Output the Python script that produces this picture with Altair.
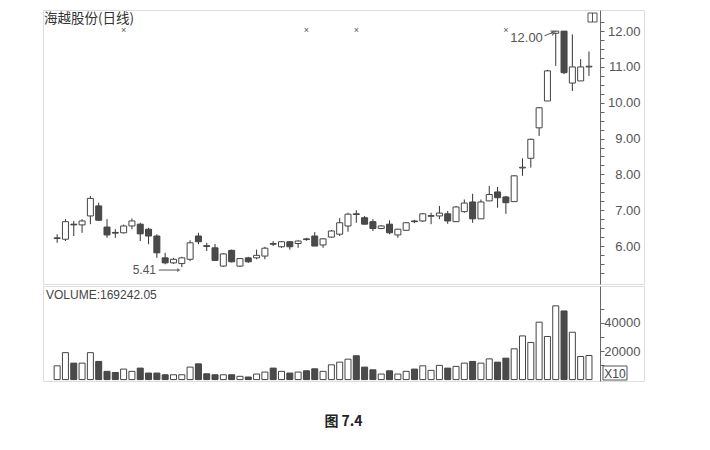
import altair as alt
import pandas as pd

# ---------------- data ----------------
IDX = list(range(1, 66))
OPEN = [6.21, 6.19, 6.61, 6.59, 6.84, 7.12, 6.53, 6.38, 6.37, 6.56,
        6.61, 6.47, 6.28, 5.67, 5.53, 5.51, 5.63, 6.28, 6.01, 5.95,
        5.44, 5.88, 5.44, 5.67, 5.67, 5.72, 6.07, 5.98, 6.12, 6.07,
        6.20, 6.28, 6.03, 6.25, 6.33, 6.56, 6.90, 6.79, 6.68, 6.49,
        6.61, 6.31, 6.44, 6.70, 6.70, 6.83, 6.84, 6.90, 6.68, 6.96,
        7.23, 6.76, 7.26, 7.51, 7.37, 7.24, 8.18, 8.45, 9.30, 10.05,
        11.94, 12.00, 10.55, 10.61, 11.00]
HIGH = [6.33, 6.75, 6.70, 6.75, 7.40, 7.21, 6.75, 6.47, 6.60, 6.77,
        6.65, 6.51, 6.33, 5.81, 5.67, 5.70, 6.16, 6.37, 6.09, 6.06,
        5.80, 5.90, 5.66, 5.70, 5.90, 5.98, 6.14, 6.14, 6.14, 6.16,
        6.23, 6.39, 6.22, 6.45, 6.78, 6.93, 7.00, 6.84, 6.75, 6.58,
        6.72, 6.48, 6.67, 6.73, 6.92, 6.93, 7.12, 6.98, 7.12, 7.30,
        7.46, 7.30, 7.68, 7.65, 7.40, 7.98, 8.45, 9.00, 9.88, 10.92,
        12.00, 12.00, 11.91, 11.22, 11.43]
LOW = [6.09, 6.14, 6.28, 6.37, 6.61, 6.70, 6.23, 6.23, 6.35, 6.47,
       6.14, 6.05, 5.67, 5.49, 5.50, 5.41, 5.58, 6.05, 5.86, 5.58,
       5.42, 5.54, 5.42, 5.53, 5.63, 5.63, 6.00, 5.95, 5.90, 5.95,
       6.15, 6.00, 5.95, 6.23, 6.28, 6.40, 6.65, 6.60, 6.42, 6.47,
       6.33, 6.23, 6.42, 6.64, 6.67, 6.61, 6.75, 6.62, 6.68, 6.93,
       6.65, 6.76, 7.26, 7.07, 6.90, 7.24, 7.96, 8.19, 9.07, 10.05,
       11.03, 10.80, 10.33, 10.61, 10.75]
CLOSE = [6.23, 6.68, 6.59, 6.70, 7.33, 6.72, 6.31, 6.36, 6.56, 6.70,
         6.34, 6.28, 5.81, 5.53, 5.63, 5.67, 6.09, 6.12, 5.99, 5.60,
         5.78, 5.56, 5.65, 5.56, 5.74, 5.94, 6.05, 6.12, 5.98, 6.14,
         6.18, 6.00, 6.20, 6.42, 6.65, 6.89, 6.88, 6.61, 6.49, 6.56,
         6.37, 6.47, 6.65, 6.68, 6.90, 6.85, 6.92, 6.70, 7.09, 7.20,
         6.76, 7.23, 7.44, 7.35, 7.21, 7.96, 8.20, 8.98, 9.86, 10.89,
         12.00, 10.84, 11.00, 11.00, 11.02]
VOLUME = [9700, 19000, 11600, 11600, 19000, 12800, 5800, 5000, 7400, 5800,
          8100, 4600, 4600, 3400, 3400, 3400, 8800, 11100, 4100, 3400,
          3400, 3400, 2300, 1800, 3900, 5300, 8100, 5800, 4600, 5300,
          6200, 7600, 5800, 10400, 12300, 14400, 16800, 8800, 6900, 3900,
          6200, 3900, 5800, 7400, 9700, 6500, 10000, 8100, 9300, 11600,
          12800, 11600, 14600, 12300, 15100, 21700, 30800, 26200, 40500, 30400,
          52000, 48400, 33400, 16300, 17000]
MARK_IDX = [9, 31, 37, 55]          # the small "x" markers along the top
TITLE = "海越股份(日线)"
VOLUME_LABEL = "VOLUME:169242.05"
CAPTION = "图 7.4"
PRICE_TICKS = [v / 4 for v in range(21, 50)]
VOL_TICKS = [10000, 20000, 30000, 40000, 50000]

# ---------------- frames ----------------
df = pd.DataFrame({"i": IDX, "o": OPEN, "h": HIGH, "l": LOW, "c": CLOSE, "v": VOLUME})
df["up"] = df["c"] >= df["o"]
df["z"] = 0

hi_row = df.loc[df["h"].idxmax()]
lo_row = df.loc[df["l"].idxmin()]
ann_hi = pd.DataFrame({"x": [hi_row.i - 1.55], "y": [hi_row.h - 0.19], "t": [f"{hi_row.h:.2f}"],
                       "ax": [hi_row.i - 1.35], "ax2": [hi_row.i - 0.25],
                       "ay": [hi_row.h - 0.13], "ay2": [hi_row.h - 0.03]})
ann_lo = pd.DataFrame({"x": [lo_row.i - 3.1], "y": [lo_row.l - 0.08], "t": [f"{lo_row.l:.2f}"],
                       "ax": [lo_row.i - 2.75], "ax2": [lo_row.i - 0.35]})
marks = pd.DataFrame({"i": MARK_IDX, "y": [12.02] * len(MARK_IDX)})
one = pd.DataFrame({"t": [TITLE]})

FONT = "Liberation Sans"
GRAY = "#555555"
DARK = "#4a4a4a"
W = 601
H1 = 274
H2 = 95

xs = alt.Scale(domain=[-0.10, 71.02], nice=False, zero=False)
ps = alt.Scale(domain=[4.94, 12.59], nice=False, zero=False)
vs = alt.Scale(domain=[-1000, 66000], nice=False, zero=False)

X = alt.X("i:Q", scale=xs, axis=None)

price_axis = alt.Axis(orient="right", offset=-44, values=PRICE_TICKS, tickSize=4,
                      labelExpr="datum.value >= 6 && datum.value <= 12 && datum.value % 1 == 0 ? format(datum.value, '.2f') : ''",
                      labelAlign="right", labelPadding=36, labelFont=FONT, labelFontSize=13,
                      labelColor=GRAY, labelOverlap=False, tickColor="#666", domainColor="#666",
                      grid=False, title=None)
vol_axis = alt.Axis(orient="right", offset=-44, values=VOL_TICKS, tickSize=4,
                    labelExpr="datum.value == 20000 || datum.value == 40000 ? format(datum.value, 'd') : ''",
                    labelAlign="right", labelPadding=36, labelFont=FONT, labelFontSize=13,
                    labelColor=GRAY, labelOverlap=False, tickColor="#666", domainColor="#666",
                    grid=False, title=None)


def PY(field):
    return alt.Y(field, scale=ps, axis=price_axis)


def XQ(field):
    return alt.X(field, scale=xs, axis=None)


fill_cond = alt.condition("datum.up", alt.value("white"), alt.value(DARK))

base = alt.Chart(df)
wicks = base.mark_rule(color="#333", strokeWidth=1).encode(
    x=X, y=PY("l:Q"), y2="h:Q")
bodies = base.mark_bar(size=6, stroke="#444", strokeWidth=1).encode(
    x=X, y=PY("o:Q"), y2="c:Q", fill=fill_cond)

xmarks = alt.Chart(marks).mark_text(text="×", fontSize=9, color=GRAY, font=FONT).encode(
    x=XQ("i:Q"), y=PY("y:Q"))

hi_text = alt.Chart(ann_hi).mark_text(align="right", baseline="middle", fontSize=13,
                                      font=FONT, color=GRAY).encode(
    x=XQ("x:Q"), y=PY("y:Q"), text="t:N")
hi_arrow = alt.Chart(ann_hi).mark_rule(color=GRAY, strokeWidth=1).encode(
    x=XQ("ax:Q"), x2="ax2:Q", y=PY("ay:Q"), y2="ay2:Q")
hi_head = alt.Chart(ann_hi).mark_point(shape="triangle-right", filled=False, size=22,
                                       angle=338, color=GRAY, strokeWidth=1).encode(
    x=XQ("ax2:Q"), y=PY("ay2:Q"))

lo_text = alt.Chart(ann_lo).mark_text(align="right", baseline="middle", fontSize=12,
                                      font=FONT, color=GRAY).encode(
    x=XQ("x:Q"), y=PY("y:Q"), text="t:N")
lo_arrow = alt.Chart(ann_lo).mark_rule(color=GRAY, strokeWidth=1).encode(
    x=XQ("ax:Q"), x2="ax2:Q", y=PY("y:Q"))
lo_head = alt.Chart(ann_lo).mark_point(shape="triangle-right", filled=True, size=18,
                                       color=GRAY).encode(
    x=XQ("ax2:Q"), y=PY("y:Q"))

title_txt = alt.Chart(one).mark_text(align="left", baseline="middle", fontSize=13.5,
                                     font="Noto Sans CJK SC", color="#333").encode(
    x=alt.value(1), y=alt.value(8.5), text="t:N")
icon = alt.Chart(one).mark_rect(fill="white", stroke="#555", strokeWidth=1).encode(
    x=alt.value(545), x2=alt.value(554), y=alt.value(3), y2=alt.value(12))
icon_line = alt.Chart(one).mark_rule(color="#555", strokeWidth=1).encode(
    x=alt.value(549.5), y=alt.value(3), y2=alt.value(12))

price_panel = alt.layer(wicks, bodies, xmarks, hi_arrow, hi_head, hi_text,
                        lo_arrow, lo_head, lo_text, title_txt, icon, icon_line
                        ).properties(width=W, height=H1)

vol_bars = base.mark_bar(size=6, stroke="#444", strokeWidth=1).encode(
    x=X, y=alt.Y("v:Q", scale=vs, axis=vol_axis), y2="z:Q", fill=fill_cond)
vol_txt = alt.Chart(pd.DataFrame({"t": [VOLUME_LABEL]})).mark_text(
    align="left", baseline="middle", fontSize=12, font=FONT, color="#444").encode(
    x=alt.value(3), y=alt.value(9), text="t:N")
x10_box = alt.Chart(one).mark_rect(fill="white", stroke="#555", strokeWidth=1).encode(
    x=alt.value(560), x2=alt.value(584), y=alt.value(80), y2=alt.value(94))
x10_txt = alt.Chart(pd.DataFrame({"t": ["X10"]})).mark_text(
    align="center", baseline="middle", fontSize=12, font=FONT, color="#444").encode(
    x=alt.value(572), y=alt.value(87.5), text="t:N")

vol_panel = alt.layer(vol_bars, vol_txt, x10_box, x10_txt).properties(width=W, height=H2)

chart = alt.vconcat(price_panel, vol_panel, spacing=0).properties(
    title=alt.TitleParams(CAPTION, orient="bottom", anchor="middle", fontSize=14,
                          fontWeight="bold", font="Noto Sans CJK SC", color="#222", offset=33),
    padding={"left": 34, "top": 1, "right": 5, "bottom": 5},
).configure_view(stroke="#777", strokeWidth=1).configure(background="white")

chart.save("out.html", embed_options={"renderer": "svg", "actions": False})
